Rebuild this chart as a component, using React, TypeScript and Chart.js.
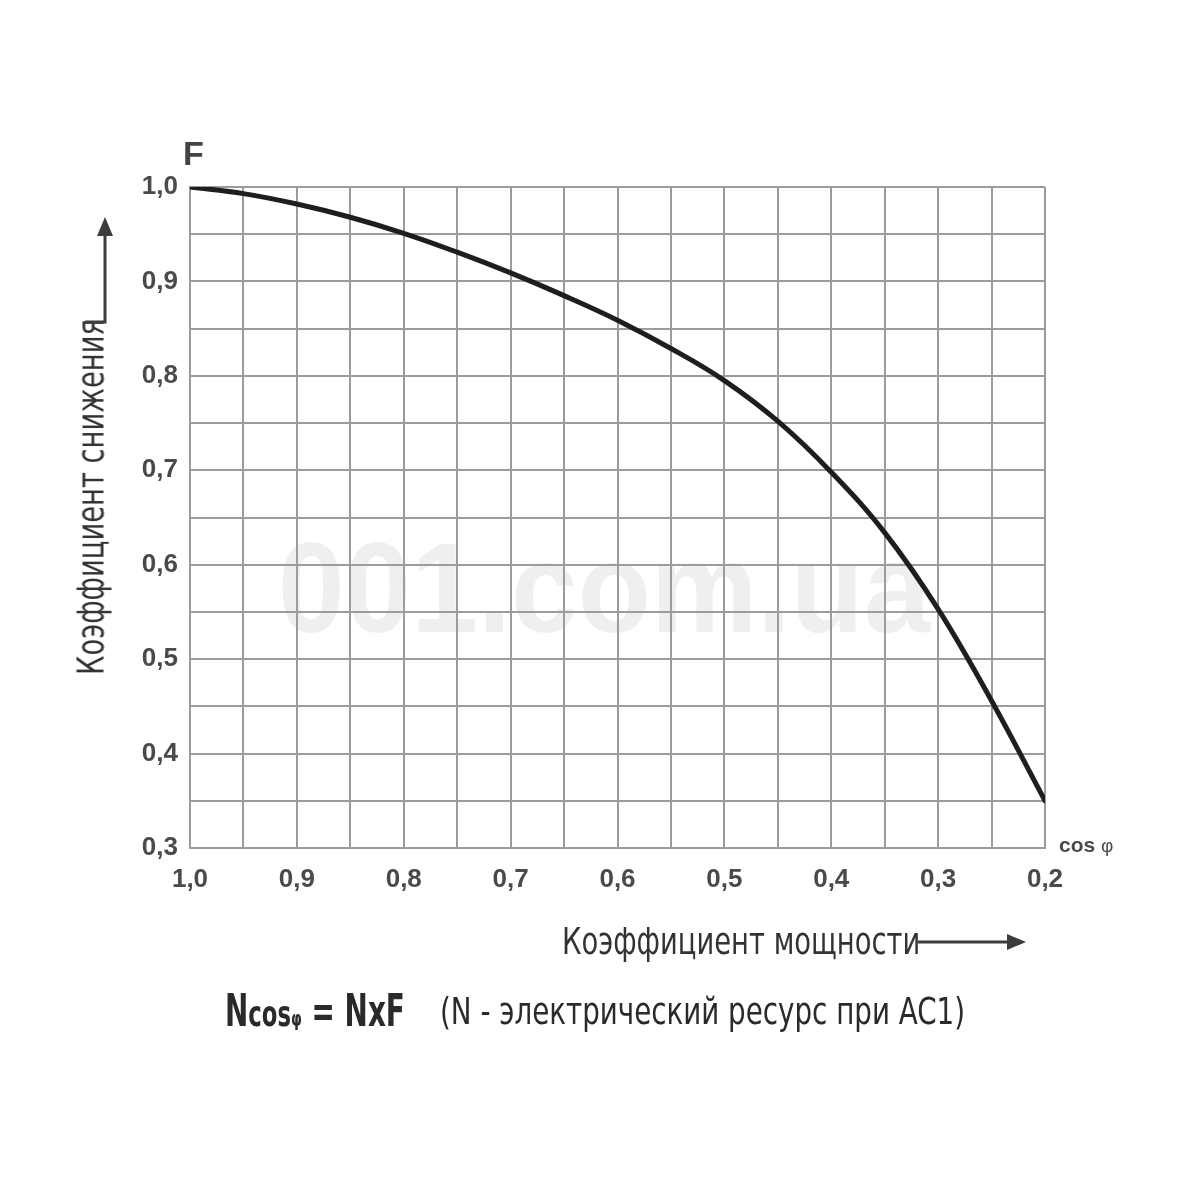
import React, { useEffect, useLayoutEffect, useRef, useState } from 'react';
import { Chart, registerables } from 'chart.js';

Chart.register(...registerables);

// ---- data ----
const cosPhi = [1.0, 0.95, 0.9, 0.85, 0.8, 0.75, 0.7, 0.65, 0.6, 0.55, 0.5, 0.45, 0.4, 0.35, 0.3, 0.25, 0.2];
const factorF = [1.0, 0.993, 0.982, 0.968, 0.951, 0.931, 0.909, 0.885, 0.859, 0.829, 0.795, 0.752, 0.698, 0.634, 0.553, 0.456, 0.35];
const xRange = [0.2, 1.0];
const yRange = [0.3, 1.0];
const gridStep = 0.05;

const fmt = (v: number) => {
  const r = Math.round(v * 10);
  if (Math.abs(v * 10 - r) > 1e-6) return '';
  return (r / 10).toFixed(1).replace('.', ',');
};

const NARROW = '"Liberation Sans Narrow", "DejaVu Sans Condensed", "Roboto", sans-serif';
const SANS = '"Liberation Sans", Arial, sans-serif';

function FitText(props: { x: number; y: number; width: number; style?: React.CSSProperties; children: React.ReactNode }) {
  const ref = useRef<HTMLSpanElement>(null);
  const [sx, setSx] = useState(1);
  useLayoutEffect(() => {
    if (ref.current) {
      const w = ref.current.offsetWidth;
      if (w > 0) setSx(props.width / w);
    }
  }, [props.width]);
  return (
    <span
      ref={ref}
      style={{
        position: 'absolute',
        left: props.x,
        top: props.y,
        whiteSpace: 'nowrap',
        lineHeight: 1,
        transform: `translateY(-50%) scaleX(${sx})`,
        transformOrigin: 'left center',
        ...props.style,
      }}
    >
      {props.children}
    </span>
  );
}

export default function App() {
  const canvasRef = useRef<HTMLCanvasElement>(null);

  useEffect(() => {
    if (!canvasRef.current) return;
    const gridColor = '#9c9c9c';
    const tickFont = { family: SANS, size: 26, weight: 'bold' as const };
    const chart = new Chart(canvasRef.current, {
      type: 'line',
      data: {
        datasets: [
          {
            data: cosPhi.map((c, i) => ({ x: c, y: factorF[i] })),
            borderColor: '#1e1e1e',
            borderWidth: 5,
            pointRadius: 0,
            fill: false,
            tension: 0.4,
            borderCapStyle: 'round',
          },
        ],
      },
      options: {
        animation: false,
        responsive: false,
        layout: { padding: { left: 0, top: 187, right: 155, bottom: 270 } },
        plugins: { legend: { display: false }, tooltip: { enabled: false } },
        scales: {
          x: {
            type: 'linear',
            reverse: true,
            min: xRange[0],
            max: xRange[1],
            grid: { color: gridColor, lineWidth: 2, drawTicks: false },
            border: { display: true, color: gridColor, width: 2 },
            ticks: {
              stepSize: gridStep,
              autoSkip: false,
              maxRotation: 0,
              padding: 16,
              color: '#4a4a4a',
              font: tickFont,
              callback: (v: any) => fmt(Number(v)),
            },
            afterFit: (s: any) => {
              s.height = 60;
            },
          },
          y: {
            type: 'linear',
            min: yRange[0],
            max: yRange[1],
            grid: { color: gridColor, lineWidth: 2, drawTicks: false },
            border: { display: true, color: gridColor, width: 2 },
            ticks: {
              stepSize: gridStep,
              autoSkip: false,
              padding: 12,
              color: '#4a4a4a',
              font: tickFont,
              callback: (v: any) => fmt(Number(v)),
            },
            afterFit: (s: any) => {
              s.width = 190;
            },
          },
        },
      },
    });
    return () => chart.destroy();
  }, []);

  return (
    <div style={{ position: 'absolute', left: 0, top: 0, width: 1200, height: 1178, background: '#fff', overflow: 'hidden' }}>
      {/* watermark */}
      <FitText x={278} y={588} width={652} style={{ fontFamily: SANS, fontWeight: 'bold', fontSize: 128, color: '#efefef' }}>
        001.com.ua
      </FitText>

      <canvas ref={canvasRef} width={1200} height={1178} style={{ position: 'absolute', left: 0, top: 0 }} />

      {/* F label */}
      <span style={{ position: 'absolute', left: 183, top: 136, fontFamily: SANS, fontWeight: 'bold', fontSize: 34, color: '#444', lineHeight: 1 }}>F</span>

      {/* cos φ */}
      <span style={{ position: 'absolute', left: 1059, top: 834, fontFamily: SANS, fontWeight: 'bold', fontSize: 21, color: '#4a4a4a', lineHeight: 1 }}>
        cos <span style={{ fontWeight: 'normal', fontSize: 19 }}>φ</span>
      </span>

      {/* Y axis title (rotated) */}
      <div style={{ position: 'absolute', left: 91, top: 497, width: 0, height: 0, transform: 'rotate(-90deg)' }}>
        <FitText x={-178} y={0} width={356} style={{ fontFamily: NARROW, fontSize: 37, color: '#333' }}>
          Коэффициент снижения
        </FitText>
      </div>

      {/* X axis title */}
      <FitText x={562} y={941} width={358} style={{ fontFamily: NARROW, fontSize: 38, color: '#333' }}>
        Коэффициент мощности
      </FitText>

      {/* arrows */}
      <svg width={1200} height={1178} style={{ position: 'absolute', left: 0, top: 0, pointerEvents: 'none' }}>
        <g stroke="#3c3c3c" strokeWidth={3} fill="none">
          <polyline points="85,322 105,322 105,232" />
          <line x1={918} y1={942} x2={1010} y2={942} />
        </g>
        <polygon points="105,217 97,236 113,236" fill="#3c3c3c" />
        <polygon points="1026,942 1007,934 1007,950" fill="#3c3c3c" />
      </svg>

      {/* formula */}
      <FitText x={225} y={1011} width={180} style={{ fontFamily: NARROW, fontWeight: 'bold', fontSize: 44, color: '#2a2a2a' }}>
        N<span style={{ fontSize: 36 }}>cos</span>
        <span style={{ fontSize: 22 }}>φ</span> = NxF
      </FitText>
      <FitText x={440} y={1011} width={525} style={{ fontFamily: NARROW, fontSize: 38, color: '#2a2a2a' }}>
        (N - электрический ресурс при AC1)
      </FitText>
    </div>
  );
}
